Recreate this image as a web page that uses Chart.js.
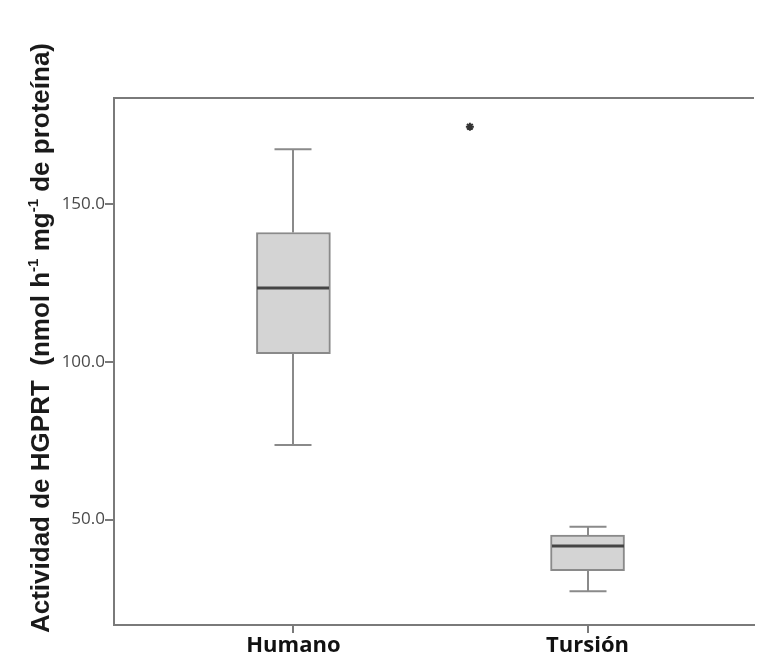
<!DOCTYPE html>
<html>
<head>
<meta charset="utf-8">
<script src="https://cdn.jsdelivr.net/npm/chart.js@4/dist/chart.umd.min.js"></script>
<style>
  html, body { margin: 0; padding: 0; background: #fff; }
  #wrap { width: 760px; height: 666px; position: relative; }
</style>
</head>
<body>
<div id="wrap"><canvas id="c" width="760" height="666"></canvas></div>
<script>
// Groups and their positions on the x axis
const groups = ['Humano', 'Tursión'];
const groupPos = [0, 1];

// Box-plot summaries per group (nmol h-1 mg-1 proteína)
const whiskerLow = [73.6, 27.3];
const q1 = [102.5, 33.8];
const median = [123.3, 41.6];
const q3 = [140.9, 45.1];
const whiskerHigh = [167.3, 47.7];

// Extreme value marked with an asterisk
const extremeX = [0.6];
const extremeY = [174.4];

// Y axis ticks
const yTicks = [50, 100, 150];

const boxColor = '#d4d4d4';
const lineColor = '#8a8a8a';
const medianColor = '#444444';

// Whiskers, caps and median lines drawn on top of the boxes
const boxPlotLines = {
  id: 'boxPlotLines',
  afterDatasetsDraw(chart) {
    const { ctx, scales: { x, y } } = chart;
    ctx.save();
    const capHalf = 18.5;
    const boxHalf = 37;
    groupPos.forEach((p, i) => {
      const cx = Math.round(x.getPixelForValue(p));
      ctx.strokeStyle = lineColor;
      ctx.lineWidth = 2;
      ctx.beginPath();
      ctx.moveTo(cx, y.getPixelForValue(q3[i]));
      ctx.lineTo(cx, y.getPixelForValue(whiskerHigh[i]));
      ctx.moveTo(cx, y.getPixelForValue(q1[i]));
      ctx.lineTo(cx, y.getPixelForValue(whiskerLow[i]));
      ctx.moveTo(cx - capHalf, y.getPixelForValue(whiskerHigh[i]));
      ctx.lineTo(cx + capHalf, y.getPixelForValue(whiskerHigh[i]));
      ctx.moveTo(cx - capHalf, y.getPixelForValue(whiskerLow[i]));
      ctx.lineTo(cx + capHalf, y.getPixelForValue(whiskerLow[i]));
      ctx.stroke();
      ctx.strokeStyle = medianColor;
      ctx.lineWidth = 3;
      ctx.beginPath();
      ctx.moveTo(cx - boxHalf + 1, y.getPixelForValue(median[i]));
      ctx.lineTo(cx + boxHalf - 1, y.getPixelForValue(median[i]));
      ctx.stroke();
    });
    ctx.restore();
  }
};

// Top edge of the frame and the rotated y-axis title with superscripts
const frameAndTitle = {
  id: 'frameAndTitle',
  afterDraw(chart) {
    const { ctx, chartArea } = chart;
    ctx.save();
    ctx.strokeStyle = '#7a7a7a';
    ctx.lineWidth = 2;
    ctx.beginPath();
    ctx.moveTo(chartArea.left, chartArea.top);
    ctx.lineTo(chartArea.right, chartArea.top);
    ctx.stroke();

    const parts = [
      { t: 'Actividad de HGPRT  (nmol h', sup: false },
      { t: '-1', sup: true },
      { t: ' mg', sup: false },
      { t: '-1', sup: true },
      { t: ' de proteína)', sup: false }
    ];
    const big = 'bold 26px "Liberation Sans", Arial, sans-serif';
    const small = 'bold 15px "Liberation Sans", Arial, sans-serif';
    let total = 0;
    parts.forEach(pt => { ctx.font = pt.sup ? small : big; total += ctx.measureText(pt.t).width; });
    ctx.translate(40, 338);
    ctx.rotate(-Math.PI / 2);
    ctx.fillStyle = '#1a1a1a';
    ctx.textBaseline = 'alphabetic';
    let cur = -total / 2;
    parts.forEach(pt => {
      ctx.font = pt.sup ? small : big;
      ctx.fillText(pt.t, cur, pt.sup ? -2 : 9);
      cur += ctx.measureText(pt.t).width;
    });
    ctx.restore();
  }
};

new Chart(document.getElementById('c'), {
  type: 'bar',
  data: {
    datasets: [
      {
        type: 'bar',
        data: groupPos.map((p, i) => ({ x: p, y: [q1[i], q3[i]] })),
        backgroundColor: boxColor,
        borderColor: lineColor,
        borderWidth: 2,
        borderSkipped: false,
        barThickness: 74
      },
      {
        type: 'scatter',
        data: extremeX.map((v, i) => ({ x: v, y: extremeY[i] })),
        pointStyle: 'star',
        pointRadius: 4,
        borderColor: '#333',
        borderWidth: 2
      }
    ]
  },
  plugins: [boxPlotLines, frameAndTitle],
  options: {
    responsive: false,
    animation: false,
    layout: { padding: { top: 98, left: 0, right: 0, bottom: 0 } },
    plugins: { legend: { display: false }, tooltip: { enabled: false } },
    scales: {
      x: {
        type: 'linear',
        offset: false,
        min: -0.61,
        max: 1.566,
        afterBuildTicks(scale) { scale.ticks = groupPos.map(v => ({ value: v })); },
        afterFit(scale) { scale.height = 41; },
        ticks: {
          callback: (v) => groups[groupPos.indexOf(v)] ?? '',
          color: '#111',
          font: { family: '"Open Sans", sans-serif', size: 22, weight: 'bold' },
          padding: 0,
          autoSkip: false,
          maxRotation: 0
        },
        grid: { offset: false, drawOnChartArea: false, tickLength: 8, color: '#7a7a7a', lineWidth: 2 },
        border: { display: true, color: '#7a7a7a', width: 2 }
      },
      y: {
        min: 16.6,
        max: 183.5,
        afterBuildTicks(scale) { scale.ticks = yTicks.map(v => ({ value: v })); },
        afterFit(scale) { scale.width = 114; },
        ticks: {
          callback: (v) => v.toFixed(1),
          color: '#4a4a4a',
          font: { family: '"Open Sans", sans-serif', size: 17 },
          padding: 0
        },
        grid: { drawOnChartArea: false, tickLength: 9, color: '#7a7a7a', lineWidth: 2 },
        border: { display: true, color: '#7a7a7a', width: 2 }
      }
    }
  }
});
</script>
</body>
</html>
